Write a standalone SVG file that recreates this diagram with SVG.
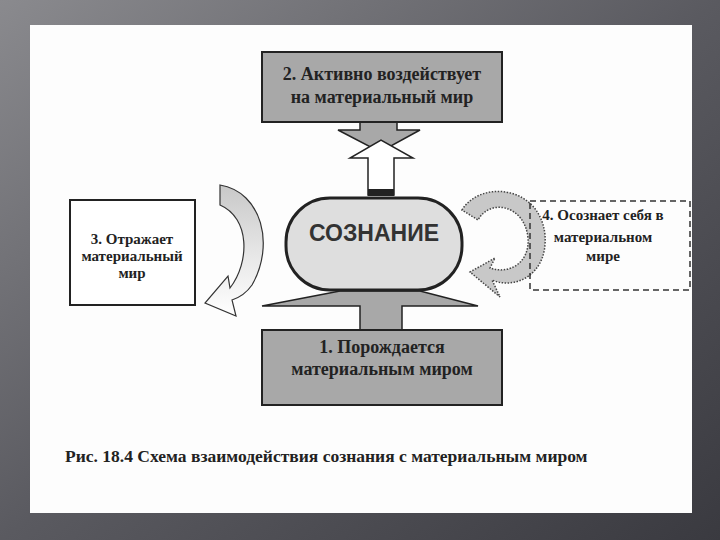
<svg xmlns="http://www.w3.org/2000/svg" width="720" height="540" viewBox="0 0 720 540">
<defs>
<linearGradient id="bg" x1="0" y1="0" x2="1" y2="1"><stop offset="0" stop-color="#8a8a8e"/><stop offset="0.5" stop-color="#5a5a60"/><stop offset="1" stop-color="#3a3a40"/></linearGradient>
<linearGradient id="la" x1="0" y1="0" x2="0" y2="1"><stop offset="0" stop-color="#c8c8c8"/><stop offset="0.55" stop-color="#e8e8e8"/><stop offset="1" stop-color="#ffffff"/></linearGradient>
<style>
.t{font-family:"Liberation Serif",serif;font-weight:bold;font-size:18px;fill:#222;text-anchor:middle}
.s{font-family:"Liberation Serif",serif;font-weight:bold;font-size:15px;fill:#222;text-anchor:middle}
.box{stroke:#222;stroke-width:2}
</style>
</defs>
<rect width="720" height="540" fill="url(#bg)"/>
<rect x="30" y="25" width="662" height="488" fill="#fdfdfd"/>
<g id="connectors">
<path d="M360 122 H397 V130 H420 L380 152 L338 130 H360 Z" fill="#a8a8a8" stroke="#222" stroke-width="1.5"/>
<path d="M368 195 V158 H350 L381 140 L413 158 H394 V195 Z" fill="#fff" stroke="#222" stroke-width="1.5"/>
<rect x="368" y="189" width="26" height="7" fill="#222"/>
<path d="M360 330 V306 H262 L340 291 H420 L478 306 H402 V330 Z" fill="#a8a8a8" stroke="#222" stroke-width="1.5"/>
<path d="M220 185 C262 192 275 245 252 285 C245 295 238 298 232 300 L236 316 L205 303 L228 276 L230 288 C250 262 250 218 220 205 Z" fill="url(#la)" stroke="#333" stroke-width="1.2"/>
<path d="M462 210 C480 180 540 185 545 235 C548 275 515 290 492 280 L500 297 L470 272 L495 258 L490 268 C510 275 530 262 528 238 C525 205 490 198 478 220 Z" fill="#c8c8c8" stroke="#444" stroke-width="1.5" stroke-dasharray="1.5 1.5"/>
</g>
<g id="n2"><rect class="box" x="262" y="52" width="240" height="70" fill="#a8a8a8"/>
<text class="t" x="382" y="80">2. Активно воздействует</text><text class="t" x="382" y="103">на материальный мир</text></g>
<g id="center"><rect x="286" y="198" width="176" height="92" rx="44" fill="#dedede" stroke="#222" stroke-width="3"/>
<text x="374" y="241" font-family="Liberation Sans,sans-serif" font-weight="bold" font-size="23" fill="#333" text-anchor="middle">СОЗНАНИЕ</text></g>
<g id="n1"><rect class="box" x="262" y="330" width="240" height="75" fill="#a8a8a8"/>
<text class="t" x="382" y="353">1. Порождается</text><text class="t" x="382" y="375">материальным миром</text></g>
<g id="n3"><rect class="box" x="70" y="200" width="125" height="105" fill="#fff"/>
<text class="s" x="132" y="244">3. Отражает</text><text class="s" x="132" y="261">материальный</text><text class="s" x="132" y="278">мир</text></g>
<g id="n4"><rect x="530" y="201" width="160" height="89" fill="none" stroke="#333" stroke-width="1.5" stroke-dasharray="6 4"/>
<text class="s" x="603" y="220">4. Осознает себя в</text><text class="s" x="603" y="242">материальном</text><text class="s" x="603" y="261">мире</text></g>
<text x="65" y="462" font-family="Liberation Serif,serif" font-weight="bold" font-size="17.5" fill="#222">Рис. 18.4 Схема взаимодействия сознания с материальным миром</text>
</svg>
